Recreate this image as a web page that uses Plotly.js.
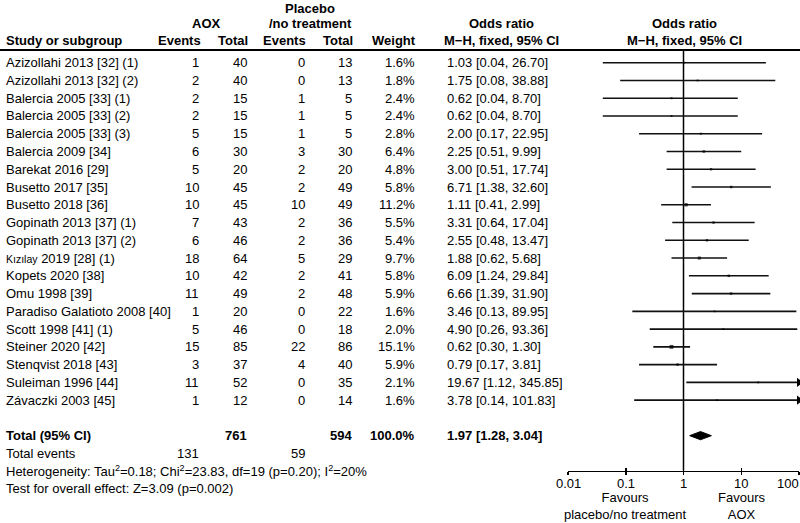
<!DOCTYPE html>
<html><head><meta charset="utf-8">
<script src="https://cdn.plot.ly/plotly-3.0.1.min.js"></script>
<style>html,body{margin:0;padding:0;background:#fff}</style>
</head><body><div id="chart" style="width:800px;height:523px"></div>
<script>
// ---- data ----
const studies = ["Azizollahi 2013 [32] (1)","Azizollahi 2013 [32] (2)","Balercia 2005 [33] (1)","Balercia 2005 [33] (2)","Balercia 2005 [33] (3)","Balercia 2009 [34]","Barekat 2016 [29]","Busetto 2017 [35]","Busetto 2018 [36]","Gopinath 2013 [37] (1)","Gopinath 2013 [37] (2)","<span style=\"font-size:10.5px\">Kızılay</span> 2019 [28] (1)","Kopets 2020 [38]","Omu 1998 [39]","Paradiso Galatioto 2008 [40]","Scott 1998 [41] (1)","Steiner 2020 [42]","Stenqvist 2018 [43]","Suleiman 1996 [44]","Závaczki 2003 [45]"];
const aoxEvents = [1,2,2,2,5,6,5,10,10,7,6,18,10,11,1,5,15,3,11,1];
const aoxTotal  = [40,40,15,15,15,30,20,45,45,43,46,64,42,49,20,46,85,37,52,12];
const plcEvents = [0,0,1,1,1,3,2,2,10,2,2,5,2,2,0,0,22,4,0,0];
const plcTotal  = [13,13,5,5,5,30,20,49,49,36,36,29,41,48,22,18,86,40,35,14];
const weights   = [1.6,1.8,2.4,2.4,2.8,6.4,4.8,5.8,11.2,5.5,5.4,9.7,5.8,5.9,1.6,2.0,15.1,5.9,2.1,1.6];
const oddsRatio = [1.03,1.75,0.62,0.62,2.00,2.25,3.00,6.71,1.11,3.31,2.55,1.88,6.09,6.66,3.46,4.90,0.62,0.79,19.67,3.78];
const ciLow     = [0.04,0.08,0.04,0.04,0.17,0.51,0.51,1.38,0.41,0.64,0.48,0.62,1.24,1.39,0.13,0.26,0.30,0.17,1.12,0.14];
const ciHigh    = [26.70,38.88,8.70,8.70,22.95,9.99,17.74,32.60,2.99,17.04,13.47,5.68,29.84,31.90,89.95,93.36,1.30,3.81,345.85,101.83];
const totalAox = 761, totalPlc = 594, totalWeight = "100.0%";
const totalEventsAox = 131, totalEventsPlc = 59;
const pooledOR = 1.97, pooledLow = 1.28, pooledHigh = 3.04;
const axisTicks = [0.01, 0.1, 1, 10, 100];
const axisTickText = ["0.01","0.1","1","10","100"];

// ---- layout helpers ----
const W = 800, H = 523;
const FONT = '"Liberation Sans", Arial, Helvetica, sans-serif';
const ROW0 = 62.7, ROWH = 17.76;
const rowOf = p => (p - ROW0) / ROWH;
const XMAX = 100;
const n = studies.length;
const totalRow = n + 1;

const ann = [];
function T(text, x, y, anchor, opts) {
  ann.push(Object.assign({
    text: text, x: x / W, xref: 'paper', y: y, yref: 'y',
    xanchor: anchor, yanchor: 'middle', showarrow: false,
    font: {family: FONT, size: 13, color: '#000'}
  }, opts || {}));
}
const B = s => '<b>' + s + '</b>';

// headers
T(B('Placebo'), 310, rowOf(8), 'center');
T(B('AOX'), 206, rowOf(23), 'center');
T(B('/no treatment'), 310, rowOf(23), 'center');
T(B('Study or subgroup'), 4, rowOf(40), 'left');
T(B('Events'), 203, rowOf(40), 'right');
T(B('Total'), 250, rowOf(40), 'right');
T(B('Events'), 308, rowOf(40), 'right');
T(B('Total'), 355, rowOf(40), 'right');
T(B('Weight'), 418, rowOf(40), 'right');
T(B('Odds ratio'), 502, rowOf(23), 'center');
T(B('M\u2212H, fixed, 95% CI'), 502, rowOf(40), 'center');
T(B('Odds ratio'), 684, rowOf(23), 'center');
T(B('M\u2212H, fixed, 95% CI'), 684, rowOf(40), 'center');

// study rows
for (let i = 0; i < n; i++) {
  T(studies[i], 4, i, 'left');
  T(String(aoxEvents[i]), 201, i, 'right');
  T(String(aoxTotal[i]), 249, i, 'right');
  T(String(plcEvents[i]), 307, i, 'right');
  T(String(plcTotal[i]), 354, i, 'right');
  T(weights[i].toFixed(1) + '%', 417, i, 'right');
  T(oddsRatio[i].toFixed(2) + ' [' + ciLow[i].toFixed(2) + ', ' + ciHigh[i].toFixed(2) + ']', 445, i, 'left');
}
// totals
T(B('Total (95% CI)'), 4, totalRow, 'left');
T(B(String(totalAox)), 249, totalRow, 'right');
T(B(String(totalPlc)), 354, totalRow, 'right');
T(B(totalWeight), 417, totalRow, 'right');
T(B(pooledOR.toFixed(2) + ' [' + pooledLow.toFixed(2) + ', ' + pooledHigh.toFixed(2) + ']'), 445, totalRow, 'left');
T('Total events', 4, totalRow + 1, 'left');
T(String(totalEventsAox), 201, totalRow + 1, 'right');
T(String(totalEventsPlc), 307, totalRow + 1, 'right');
T('Heterogeneity: Tau<sup>2</sup>=0.18; Chi<sup>2</sup>=23.83, df=19 (p=0.20); I<sup>2</sup>=20%', 4, totalRow + 2, 'left');
T('Test for overall effect: Z=3.09 (p=0.002)', 4, totalRow + 3, 'left');

// favours labels
ann.push({text: 'Favours<br>placebo/no treatment', x: 625 / W, xref: 'paper', y: 1 - 506 / H, yref: 'paper',
  xanchor: 'center', yanchor: 'middle', showarrow: false, font: {family: FONT, size: 13, color: '#000'}});
ann.push({text: 'Favours<br>AOX', x: 741 / W, xref: 'paper', y: 1 - 506 / H, yref: 'paper',
  xanchor: 'center', yanchor: 'middle', showarrow: false, font: {family: FONT, size: 13, color: '#000'}});

// axis tick labels (drawn as annotations on the log axis so the last one can stay inside the page)
axisTicks.forEach((v, k) => {
  const last = k === axisTicks.length - 1;
  ann.push({text: axisTickText[k], x: Math.log10(v), xref: 'x', y: 1 - 483 / H, yref: 'paper',
    xanchor: last ? 'right' : 'center', xshift: last ? 2 : 0, yanchor: 'middle', showarrow: false,
    font: {family: FONT, size: 13, color: '#000'}});
});

// ---- traces ----
const lx = [], ly = [];
for (let i = 0; i < n; i++) {
  lx.push(ciLow[i], Math.min(ciHigh[i], XMAX), null);
  ly.push(i, i, null);
}
const ciTrace = {type: 'scatter', mode: 'lines', x: lx, y: ly, xaxis: 'x', yaxis: 'y',
  line: {color: '#111', width: 1.6}, hoverinfo: 'skip', showlegend: false, cliponaxis: false};

const ptTrace = {type: 'scatter', mode: 'markers', x: oddsRatio, y: studies.map((s, i) => i),
  marker: {symbol: 'square', color: '#000', size: weights.map(w => 1.6 + w * 0.15), line: {width: 0}},
  showlegend: false, hoverinfo: 'skip', cliponaxis: false};

const arrX = [], arrY = [];
for (let i = 0; i < n; i++) if (ciHigh[i] > XMAX) { arrX.push(XMAX); arrY.push(i); }
const arrowTrace = {type: 'scatter', mode: 'markers', x: arrX, y: arrY,
  marker: {symbol: 'triangle-right', color: '#000', size: 8, line: {width: 0}},
  showlegend: false, hoverinfo: 'skip', cliponaxis: false};

const dh = 0.23;
const diamond = {type: 'scatter', mode: 'lines', fill: 'toself', fillcolor: '#000',
  x: [pooledLow, pooledOR, pooledHigh, pooledOR, pooledLow],
  y: [totalRow, totalRow - dh, totalRow, totalRow + dh, totalRow],
  line: {color: '#000', width: 1}, showlegend: false, hoverinfo: 'skip'};

const nullLine = {type: 'scatter', mode: 'lines', x: [1, 1], y: [rowOf(50), rowOf(470.5)],
  line: {color: '#000', width: 1.5}, showlegend: false, hoverinfo: 'skip', cliponaxis: false};

const dummy2 = {type: 'scatter', mode: 'markers', x: [1], y: [0], xaxis: 'x2', yaxis: 'y',
  marker: {opacity: 0}, showlegend: false, hoverinfo: 'skip'};

const axisPos = (H - 470.5) / H;
const layout = {
  width: W, height: H, margin: {l: 0, r: 0, t: 0, b: 0},
  paper_bgcolor: '#fff', plot_bgcolor: 'rgba(0,0,0,0)',
  font: {family: FONT, size: 13, color: '#000'},
  xaxis: {type: 'log', range: [-2, 2], domain: [568 / W, 799 / W], anchor: 'free', position: axisPos,
    showline: true, linecolor: '#000', linewidth: 1.5, ticks: 'outside', ticklen: 3, tickwidth: 1.5,
    tickcolor: '#000', tickvals: axisTicks, showticklabels: false,
    showgrid: false, zeroline: false, fixedrange: true},
  xaxis2: {type: 'log', range: [-2, 2], overlaying: 'x', anchor: 'free', position: axisPos,
    showline: false, ticks: 'inside', ticklen: 3, tickwidth: 1.5, tickcolor: '#000',
    tickvals: axisTicks, showticklabels: false, showgrid: false, zeroline: false},
  yaxis: {range: [rowOf(H), rowOf(0)], domain: [0, 1], visible: false, showgrid: false, zeroline: false, fixedrange: true},
  shapes: [{type: 'line', xref: 'paper', yref: 'paper', x0: 0, x1: 1, y0: 1 - 50 / H, y1: 1 - 50 / H,
    line: {color: '#000', width: 2}}],
  annotations: ann,
  showlegend: false
};

Plotly.newPlot('chart', [nullLine, ciTrace, ptTrace, arrowTrace, diamond, dummy2], layout, {displayModeBar: false, staticPlot: true});
</script>
</body></html>
